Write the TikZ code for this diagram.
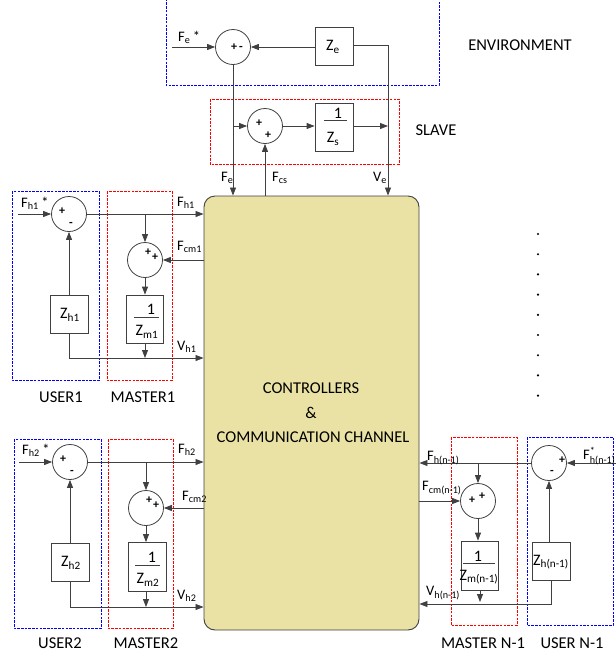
\documentclass[tikz,border=0pt]{standalone}
\usepackage{amsmath}
\usepackage{fontspec}
\setmainfont{Carlito}
\usetikzlibrary{arrows.meta}
\definecolor{ln}{RGB}{64,64,64}
\definecolor{ctrlfill}{RGB}{234,226,164}
\newcommand\sbs[1]{\textsubscript{#1}}
\begin{document}
\begin{tikzpicture}[x=1pt,y=-1pt,
  arr/.style={draw=ln,line width=0.8pt,-{Triangle[length=8pt,width=6pt]}},
  wire/.style={draw=ln,line width=0.8pt},
  sumc/.style={circle,draw=ln,line width=0.8pt,minimum size=35pt,inner sep=0pt},
  blk/.style={rectangle,draw=ln,line width=0.8pt,inner sep=0pt},
  bdash/.style={draw=blue,line width=1pt,dash pattern=on 2.5pt off 1.2pt},
  rdash/.style={draw=red,line width=1pt,dash pattern=on 2.5pt off 1.2pt},
  lbl/.style={font=\fontsize{14.5}{16}\selectfont,inner sep=0pt,anchor=west},
  sgn/.style={font=\fontsize{12}{14}\selectfont\bfseries,inner sep=0pt},
  ttl/.style={font=\fontsize{16.5}{19}\selectfont,inner sep=0pt},
  blktxt/.style={font=\fontsize{16}{18}\selectfont,inner sep=0pt}
]
\useasboundingbox (0,0) rectangle (616,657);

% dashed frames
\draw[bdash] (166,-5) rectangle (439,85);
\draw[rdash] (210,99) rectangle (399,164);
\draw[bdash] (12,191) rectangle (99,380);
\draw[rdash] (107,191) rectangle (172,380);
\draw[bdash] (14,439) rectangle (101,628);
\draw[rdash] (108,439) rectangle (173,628);
\draw[rdash] (451,437) rectangle (517,625);
\draw[bdash] (527,437) rectangle (613,625);

% controller
\node[draw=ln,line width=0.9pt,fill=ctrlfill,rounded corners=11pt,minimum width=215pt,minimum height=434pt,inner sep=0pt] (ctrl) at (311.5,413) {};
\node[ttl] (c1) at (311,388) {CONTROLLERS};
\node[ttl] (c2) at (311,413) {\&};
\node[ttl] (c3) at (313,437) {COMMUNICATION CHANNEL};

% ---------- environment ----------
\node[sumc] (se) at (233,47) {};
\node[sgn] (se1) at (237,47) {+\,-};
\node[blk,minimum width=38pt,minimum height=38pt] (ze) at (334,46) {};
\node[blktxt] (zet) at (333,47) {Z\sbs{e}};
\coordinate (fein) at (172,47);
\draw[arr] (fein) -- (se);
\draw[arr] (ze.west |- se) -- (se);
\coordinate (vecorner) at (388,45);
\draw[arr] (ze.east |- vecorner) -- (vecorner) -- (vecorner |- ctrl.north);
\node[lbl] (lfes) at (178,37) {F\sbs{e}\,*};
\node[ttl] (lenv) at (520,45) {ENVIRONMENT};

% ---------- slave ----------
\node[sumc] (ss) at (265,126) {};
\node[sgn] (ss1) at (259,123) {+};
\node[sgn] (ss2) at (268,135) {+};
\node[blk,minimum width=38pt,minimum height=48pt] (zs) at (334,127) {};
\node[blktxt] (zs1) at (338,113) {1};
\draw[wire] (324,120) -- (347,120);
\node[blktxt] (zs2) at (333,139) {Z\sbs{s}};
\draw[arr] (se.south) -- (se.south |- ctrl.north);
\coordinate (fbr) at (233,126);
\draw[arr] (fbr) -- (ss.west);
\draw[arr] (ss.east) -- (zs.west |- ss);
\draw[arr] (zs.east |- ss) -- (vecorner |- ss);
\draw[arr] (ss.south |- ctrl.north) -- (ss.south);
\node[lbl] (lfe) at (221,178) {F\sbs{e}};
\node[lbl] (lfcs) at (272,178) {F\sbs{cs}};
\node[lbl] (lve) at (373,178) {V\sbs{e}};
\node[ttl] (lslave) at (436,130) {SLAVE};

% ---------- user1 / master1 ----------
\node[sumc] (h1) at (69,214) {};
\node[sgn] (h1a) at (62,211) {+};
\node[sgn] (h1b) at (71,224) {-};
\node[blk,minimum width=38pt,minimum height=38pt] (zh1) at (69,314) {};
\node[blktxt] (zh1t) at (70,315) {Z\sbs{h1}};
\node[sumc] (m1) at (145,260) {};
\node[sgn] (m1a) at (148,252) {+};
\node[sgn] (m1b) at (155,257) {+};
\node[blk,minimum width=37pt,minimum height=48pt] (zm1) at (145,319) {};
\node[blktxt] (zm1a) at (151,309) {1};
\draw[wire] (134,317) -- (159,317);
\node[blktxt] (zm1b) at (147,332) {Z\sbs{m1}};
\coordinate (fh1in) at (18,214);
\draw[arr] (fh1in) -- (h1.west);
\draw[arr] (h1.east) -- (h1.east -| ctrl.west);
\coordinate (b1) at (145,214);
\draw[arr] (b1) -- (m1.north);
\draw[arr] (ctrl.west |- m1) -- (m1.east);
\draw[arr] (m1.south) -- (zm1.north);
\draw[arr] (zh1.north) -- (h1.south);
\coordinate (v1c) at (69,358);
\draw[arr] (zh1.south) -- (v1c) -- (v1c -| ctrl.west);
\draw[arr] (zm1.south) -- (zm1.south |- v1c);
\node[lbl] (lfh1s) at (21,203) {F\sbs{h1}\,*};
\node[lbl] (lfh1) at (177,203) {F\sbs{h1}};
\node[lbl] (lfcm1) at (177,247) {F\sbs{cm1}};
\node[lbl] (lvh1) at (177,347) {V\sbs{h1}};
\node[ttl] (lu1) at (61,397) {USER1};
\node[ttl] (lm1) at (143,397) {MASTER1};

% ---------- user2 / master2 ----------
\node[sumc] (h2) at (70,462) {};
\node[sgn] (h2a) at (63,459) {+};
\node[sgn] (h2b) at (72,472) {-};
\node[blk,minimum width=38pt,minimum height=38pt] (zh2) at (70,562) {};
\node[blktxt] (zh2t) at (71,563) {Z\sbs{h2}};
\node[sumc] (m2) at (146,508) {};
\node[sgn] (m2a) at (149,500) {+};
\node[sgn] (m2b) at (156,505) {+};
\node[blk,minimum width=38pt,minimum height=49pt] (zm2) at (147,567) {};
\node[blktxt] (zm2a) at (152,557) {1};
\draw[wire] (135,565) -- (160,565);
\node[blktxt] (zm2b) at (148,580) {Z\sbs{m2}};
\coordinate (fh2in) at (19,462);
\draw[arr] (fh2in) -- (h2.west);
\draw[arr] (h2.east) -- (h2.east -| ctrl.west);
\coordinate (b2) at (146,462);
\draw[arr] (b2) -- (m2.north);
\draw[arr] (ctrl.west |- m2) -- (m2.east);
\draw[arr] (m2.south) -- (m2.south |- zm2.north);
\draw[arr] (zh2.north) -- (h2.south);
\coordinate (v2c) at (70,607);
\draw[arr] (zh2.south) -- (v2c) -- (v2c -| ctrl.west);
\draw[arr] (m2.south |- zm2.south) -- (m2.south |- v2c);
\node[lbl] (lfh2s) at (22,450) {F\sbs{h2}\,*};
\node[lbl] (lfh2) at (178,450) {F\sbs{h2}};
\node[lbl] (lfcm2) at (182,497) {F\sbs{cm2}};
\node[lbl] (lvh2) at (177,596) {V\sbs{h2}};
\node[ttl] (lu2) at (60,643) {USER2};
\node[ttl] (lm2) at (146,643) {MASTER2};

% ---------- user N-1 / master N-1 ----------
\node[sumc] (hn) at (549,463) {};
\node[sgn] (hna) at (562,460) {+};
\node[sgn] (hnb) at (552,472) {-};
\node[blk,minimum width=38pt,minimum height=38pt] (zhn) at (551,561) {};
\node[blktxt] (zhnt) at (551,562) {Z\sbs{h(n-1)}};
\node[sumc] (mn) at (478,501) {};
\node[sgn] (mna) at (472,500) {+};
\node[sgn] (mnb) at (482,496) {+};
\node[blk,minimum width=37pt,minimum height=49pt] (zmn) at (479.5,565.5) {};
\node[blktxt] (zmna) at (478,556) {1};
\draw[wire] (463,563) -- (495,563);
\node[blktxt] (zmnb) at (479,577) {Z\sbs{m(n-1)}};
\coordinate (fhnin) at (620,463);
\draw[arr] (fhnin) -- (hn.east);
\draw[arr] (hn.west) -- (hn.west -| ctrl.east);
\coordinate (bn) at (478,463);
\draw[arr] (bn) -- (mn.north);
\draw[arr] (ctrl.east |- mn) -- (mn.west);
\draw[arr] (mn.south) -- (mn.south |- zmn.north);
\draw[arr] (hn.south |- zhn.north) -- (hn.south);
\coordinate (vnc) at (551,604);
\draw[arr] (zhn.south) -- (vnc) -- (vnc -| ctrl.east);
\draw[arr] (480,590) -- (480,602);
\node[lbl] (lfhn) at (427,458) {F\sbs{h(n-1)}};
\node[lbl] (lfcmn) at (422,488) {F\sbs{cm(n-1)}};
\node[lbl] (lvhn) at (426,593) {V\sbs{h(n-1)}};
\node[lbl] (lfhns) at (583,456) {F$^{\text{*}}_{\text{h(n-1)}}$};
\node[ttl] (lmn) at (483,643) {MASTER N-1};
\node[ttl] (lun) at (572,643) {USER N-1};

% dots
\foreach \k in {0,...,8} {
  \fill (538,{234+20.2*\k}) circle (1.2pt);
}
\end{tikzpicture}
\end{document}
